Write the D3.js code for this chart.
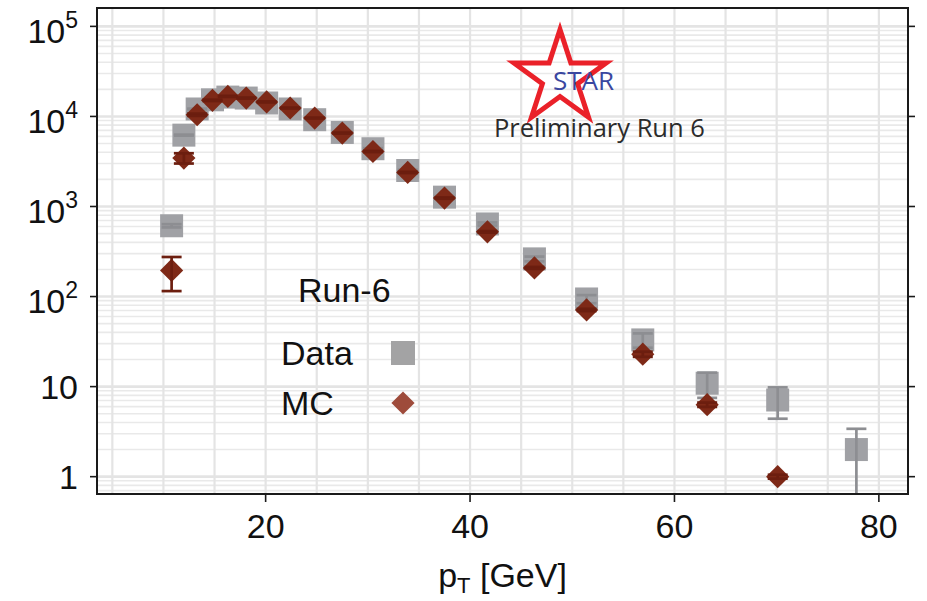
<!DOCTYPE html>
<html>
<head>
<meta charset="utf-8">
<script src="https://cdn.jsdelivr.net/npm/d3@7"></script>
<style>
  html, body { margin: 0; padding: 0; background: #ffffff; }
  svg { display: block; }
  text { font-family: "Liberation Sans", Arial, Helvetica, sans-serif; }
</style>
</head>
<body>
<svg id="chart" width="927" height="601"></svg>
<script>
// Jet pT spectrum, Run-6: measured data vs. simulation
const pT = [10.8, 12.0, 13.3, 14.8, 16.3, 18.1, 20.1, 22.4, 24.8, 27.5,
            30.5, 33.9, 37.5, 41.7, 46.3, 51.4, 56.9, 63.2, 70.1, 77.8];

const dataCounts = [611, 6200, 12100, 15300, 16400, 16000, 14100, 12100, 9200, 6640,
                    4380, 2510, 1270, 640, 262, 94, 33, 10.9, 7.1, 2.0];
const dataErr    = [25, 79, 110, 124, 128, 126, 119, 110, 96, 81,
                    66, 50, 36, 25, 16, 9.7, 6.0, 3.4, 2.7, 1.4];

const mcCounts = [195, 3450, 10440, 15100, 16700, 16000, 14500, 12400, 9600, 6540,
                  4080, 2390, 1240, 523, 208, 71, 22.9, 6.3, 1.0, null];
const mcErr    = [80, 450, 300, 250, 220, 200, 170, 140, 110, 80,
                  55, 35, 20, 10, 5, 2, 1.5, 0.35, 0.05, null];

const xTicks = [20, 40, 60, 80];
const xGrid  = [5, 10, 15, 20, 25, 30, 35, 40, 45, 50, 55, 60, 65, 70, 75, 80];
const yTicks = [1, 10, 100, 1000, 10000, 100000];
const yTickLabels = [["1", ""], ["10", ""], ["10", "2"], ["10", "3"], ["10", "4"], ["10", "5"]];

const legendTitle = "Run-6";
const legendEntries = ["Data", "MC"];

const svg = d3.select("#chart");
const margin = { left: 97, top: 8, right: 19, bottom: 107 };
const W = 927 - margin.left - margin.right;
const H = 601 - margin.top - margin.bottom;

const x = d3.scaleLinear().domain([3.5, 82.85]).range([0, W]);
const y = d3.scaleLog().domain([0.642, 1.6e5]).range([H, 0]);

const g = svg.append("g").attr("transform", `translate(${margin.left},${margin.top})`);

g.append("clipPath").attr("id", "plotClip")
  .append("rect").attr("width", W).attr("height", H);

// grid
const grid = g.append("g").attr("clip-path", "url(#plotClip)");
const minorY = [];
for (let e = -1; e <= 5; e++) {
  for (let m = 2; m <= 9; m++) minorY.push(m * Math.pow(10, e));
}
grid.selectAll("line.ymin").data(minorY).join("line")
  .attr("x1", 0).attr("x2", W)
  .attr("y1", d => y(d)).attr("y2", d => y(d))
  .attr("stroke", "#e9e9e9").attr("stroke-width", 1.6);
grid.selectAll("line.ymaj").data(yTicks).join("line")
  .attr("x1", 0).attr("x2", W)
  .attr("y1", d => y(d)).attr("y2", d => y(d))
  .attr("stroke", "#e4e4e4").attr("stroke-width", 2.6);
grid.selectAll("line.xg").data(xGrid).join("line")
  .attr("x1", d => x(d)).attr("x2", d => x(d))
  .attr("y1", 0).attr("y2", H)
  .attr("stroke", "#e4e4e4").attr("stroke-width", 2.2);

// STAR logo
const logo = g.append("g");
const starCx = 463, starCy = 70, Ro = 48.5, Ri = 18.5;
const starPts = d3.range(10).map(i => {
  const r = i % 2 === 0 ? Ro : Ri;
  const a = -Math.PI / 2 + i * Math.PI / 5;
  return [starCx + r * Math.cos(a), starCy + r * Math.sin(a)];
});
logo.append("polygon")
  .attr("points", starPts.map(p => p.join(",")).join(" "))
  .attr("fill", "none").attr("stroke", "#ea2129").attr("stroke-width", 5)
  .attr("stroke-linejoin", "miter");
logo.append("text").attr("x", 456).attr("y", 82)
  .style("font-family", "'Open Sans', sans-serif")
  .attr("font-size", 26).attr("fill", "#3a47a0").text("STAR");
logo.append("text").attr("x", 397).attr("y", 129)
  .style("font-family", "'Open Sans', sans-serif")
  .attr("font-size", 25.5).attr("fill", "#2b2b2b").text("Preliminary Run 6");

// data points
const pts = pT.map((p, i) => ({ p, d: dataCounts[i], de: dataErr[i], m: mcCounts[i], me: mcErr[i] }));
const marks = g.append("g").attr("clip-path", "url(#plotClip)");
const sqSym = d3.symbol().type(d3.symbolSquare).size(23 * 23);
const dmSym = d3.symbol().type(d3.symbolSquare).size(16.4 * 16.4);

const dataCol = "#a0a1a5", dataErrCol = "#8d8e92";
const mcCol = "#7e2917", mcErrCol = "#6c1e0f";

function errBars(sel, key, ekey, col) {
  const grp = sel.selectAll(null).data(pts.filter(d => d[key] != null)).join("g");
  grp.append("line")
    .attr("x1", d => x(d.p)).attr("x2", d => x(d.p))
    .attr("y1", d => y(d[key] + d[ekey]))
    .attr("y2", d => (d[key] - d[ekey] > 0 ? y(d[key] - d[ekey]) : H + 10))
    .attr("stroke", col).attr("stroke-width", 2.7);
  grp.append("line")
    .attr("x1", d => x(d.p) - 10).attr("x2", d => x(d.p) + 10)
    .attr("y1", d => y(d[key] + d[ekey])).attr("y2", d => y(d[key] + d[ekey]))
    .attr("stroke", col).attr("stroke-width", 2.7);
  grp.filter(d => d[key] - d[ekey] > 0).append("line")
    .attr("x1", d => x(d.p) - 10).attr("x2", d => x(d.p) + 10)
    .attr("y1", d => y(d[key] - d[ekey])).attr("y2", d => y(d[key] - d[ekey]))
    .attr("stroke", col).attr("stroke-width", 2.7);
}

marks.selectAll("path.data").data(pts).join("path")
  .attr("d", sqSym)
  .attr("transform", d => `translate(${x(d.p)},${y(d.d)})`)
  .attr("fill", dataCol);
errBars(marks.append("g"), "d", "de", dataErrCol);

marks.selectAll("path.mc").data(pts.filter(d => d.m != null)).join("path")
  .attr("d", dmSym)
  .attr("transform", d => `translate(${x(d.p)},${y(d.m)}) rotate(45)`)
  .attr("fill", mcCol);
errBars(marks.append("g"), "m", "me", mcErrCol);

// legend
const leg = g.append("g");
leg.append("text").attr("x", 201).attr("y", 294).attr("font-size", 34).attr("fill", "#111").text(legendTitle);
leg.append("text").attr("x", 184).attr("y", 357).attr("font-size", 34).attr("fill", "#111").text(legendEntries[0]);
leg.append("text").attr("x", 184).attr("y", 407).attr("font-size", 34).attr("fill", "#111").text(legendEntries[1]);
leg.append("path").attr("d", d3.symbol().type(d3.symbolSquare).size(24 * 24))
  .attr("transform", "translate(306,345)").attr("fill", "#a3a3a4");
leg.append("path").attr("d", d3.symbol().type(d3.symbolSquare).size(16.4 * 16.4))
  .attr("transform", "translate(306,395) rotate(45)").attr("fill", "#9e4b3b");

// frame
g.append("rect").attr("width", W).attr("height", H)
  .attr("fill", "none").attr("stroke", "#1a1a1a").attr("stroke-width", 2);

// axes ticks
g.selectAll("line.xt").data(xTicks).join("line")
  .attr("x1", d => x(d)).attr("x2", d => x(d)).attr("y1", H).attr("y2", H + 8)
  .attr("stroke", "#1a1a1a").attr("stroke-width", 1.6);
g.selectAll("text.xl").data(xTicks).join("text")
  .attr("x", d => x(d)).attr("y", H + 44).attr("text-anchor", "middle")
  .attr("font-size", 34).attr("fill", "#111").text(d => d);

g.selectAll("line.yt").data(yTicks).join("line")
  .attr("x1", -7).attr("x2", 0).attr("y1", d => y(d)).attr("y2", d => y(d))
  .attr("stroke", "#1a1a1a").attr("stroke-width", 1.6);
g.selectAll("line.yr").data(yTicks).join("line")
  .attr("x1", W).attr("x2", W + 7).attr("y1", d => y(d)).attr("y2", d => y(d))
  .attr("stroke", "#1a1a1a").attr("stroke-width", 1.6);

const yl = g.selectAll("text.yl").data(yTicks).join("text")
  .attr("text-anchor", "end").attr("x", -19)
  .attr("y", (d, i) => y(d) + (yTickLabels[i][1] ? 16.5 : 12.5))
  .attr("fill", "#111");
yl.append("tspan").attr("font-size", 34).text((d, i) => yTickLabels[i][0]);
yl.append("tspan").attr("font-size", 23).attr("dy", -15)
  .text((d, i) => yTickLabels[i][1]);

// axis title
const xt = svg.append("text").attr("x", margin.left + W / 2).attr("y", 587)
  .attr("text-anchor", "middle").attr("font-size", 34).attr("fill", "#111");
xt.append("tspan").text("p");
xt.append("tspan").attr("font-size", 22).attr("dy", 6).text("T");
xt.append("tspan").attr("dy", -6).text(" [GeV]");
</script>
</body>
</html>
